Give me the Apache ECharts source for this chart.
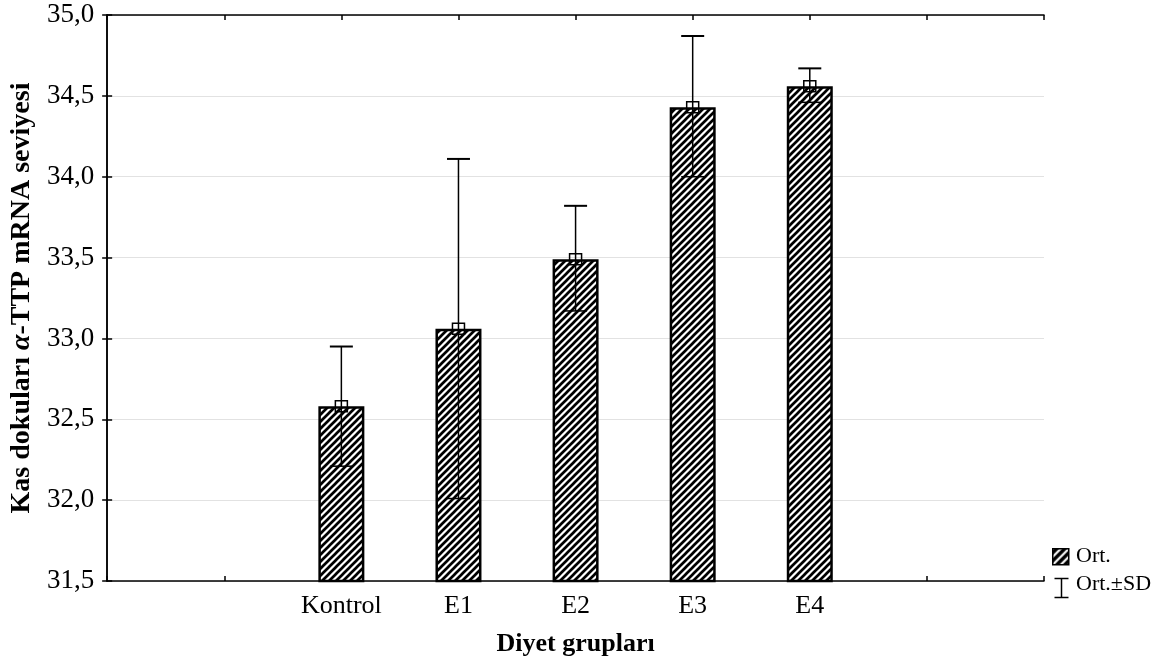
<!DOCTYPE html>
<html>
<head>
<meta charset="utf-8">
<script src="https://cdn.jsdelivr.net/npm/echarts@6/dist/echarts.min.js"></script>
<style>
html,body{margin:0;padding:0;background:#fff;}
#chart{width:1173px;height:669px;}
</style>
</head>
<body>
<div id="chart"></div>
<script>
// ---- data ----
const categories = ['Kontrol', 'E1', 'E2', 'E3', 'E4'];
const means = [32.58, 33.06, 33.49, 34.43, 34.56];
const sdLow = [32.21, 32.01, 33.17, 34.00, 34.46];
const sdHigh = [32.95, 34.11, 33.82, 34.87, 34.67];
const yTicks = ['31,5', '32,0', '32,5', '33,0', '33,5', '34,0', '34,5', '35,0'];

// ---- layout helpers ----
const OFFSET = 2; // empty slots before the first group
const SLOTS = 8;

function hatch(bg, fg, n, w) {
  const c = document.createElement('canvas');
  c.width = n; c.height = n;
  const ctx = c.getContext('2d');
  ctx.fillStyle = bg; ctx.fillRect(0, 0, n, n);
  ctx.strokeStyle = fg; ctx.lineWidth = w;
  ctx.beginPath();
  ctx.moveTo(-1, n + 1); ctx.lineTo(n + 1, -1);
  ctx.moveTo(-2, 2); ctx.lineTo(2, -2);
  ctx.moveTo(n - 2, n + 2); ctx.lineTo(n + 2, n - 2);
  ctx.stroke();
  return c;
}
const pattern = { image: hatch('#ffffff', '#000000', 7, 2.7), repeat: 'repeat' };
const legendPattern = { image: hatch('#000000', '#ffffff', 8, 2.2), repeat: 'repeat' };

const barData = categories.map((c, i) => [i + OFFSET, means[i]]);
const errData = categories.map((c, i) => [i + OFFSET, sdLow[i], sdHigh[i], means[i]]);

const FONT = '"Liberation Serif", "Times New Roman", serif';

const chart = echarts.init(document.getElementById('chart'), null, { renderer: 'canvas' });

const option = {
  backgroundColor: '#ffffff',
  animation: false,
  grid: { left: 103, right: 129, top: 15, bottom: 88, containLabel: false },
  xAxis: [{
    type: 'value', min: 0, max: SLOTS, interval: 1,
    name: 'Diyet grupları', nameLocation: 'middle', nameGap: 50,
    nameTextStyle: { fontFamily: FONT, fontSize: 26, fontWeight: 'bold', color: '#000' },
    axisLine: { show: true, lineStyle: { color: '#000', width: 1.5 } },
    axisTick: { show: true, inside: true, length: 5, lineStyle: { color: '#000', width: 1.5 } },
    axisLabel: {
      fontFamily: FONT, fontSize: 26, color: '#000', margin: 12,
      formatter: v => { const k = Math.round(v) - OFFSET; return (k >= 0 && k < categories.length) ? categories[k] : ''; }
    },
    splitLine: { show: false }
  }, {
    type: 'value', min: 0, max: SLOTS, interval: 1, position: 'top',
    axisLine: { show: true, lineStyle: { color: '#000', width: 1.5 } },
    axisTick: { show: true, inside: true, length: 5, lineStyle: { color: '#000', width: 1.5 } },
    axisLabel: { show: false }, splitLine: { show: false }
  }],
  yAxis: [{
    type: 'value', min: 31.5, max: 35, interval: 0.5,
    name: '{b|Kas dokuları }{i|α}{b|-TTP mRNA seviyesi}',
    nameLocation: 'middle', nameGap: 68, nameRotate: 90,
    nameTextStyle: {
      fontFamily: FONT, fontSize: 28, fontWeight: 'bold', color: '#000',
      rich: {
        b: { fontFamily: FONT, fontSize: 28, fontWeight: 'bold', color: '#000' },
        i: { fontFamily: FONT, fontSize: 28, fontWeight: 'bold', fontStyle: 'italic', color: '#000' }
      }
    },
    axisLine: { show: true, lineStyle: { color: '#000', width: 1.5 } },
    axisTick: { show: true, inside: true, length: 5, lineStyle: { color: '#000', width: 1.5 } },
    axisLabel: {
      fontFamily: FONT, fontSize: 27, color: '#000', margin: 13,
      formatter: v => yTicks[Math.round((v - 31.5) / 0.5)]
    },
    splitLine: { show: true, lineStyle: { color: '#e2e2e2', width: 1.2 } }
  }, {
    type: 'value', min: 31.5, max: 35, interval: 0.5, position: 'right',
    axisLine: { show: true, lineStyle: { color: '#000', width: 1.5 } },
    axisTick: { show: true, inside: true, length: 5, lineStyle: { color: '#000', width: 1.5 } },
    axisLabel: { show: false }, splitLine: { show: false }
  }],
  series: [{
    type: 'bar', name: 'Ort.', xAxisIndex: 0, yAxisIndex: 0,
    data: barData, barWidth: 46,
    itemStyle: { color: pattern, borderColor: '#000', borderWidth: 2.5 },
    z: 2
  }, {
    type: 'custom', name: 'Ort.±SD', xAxisIndex: 0, yAxisIndex: 0,
    data: errData, z: 5,
    renderItem: (params, api) => {
      const x = api.value(0);
      const lo = api.coord([x, api.value(1)]);
      const hi = api.coord([x, api.value(2)]);
      const m = api.coord([x, api.value(3)]);
      const cap = 11.5;
      const st = { stroke: '#000', lineWidth: 1.5, fill: null };
      return {
        type: 'group',
        children: [
          { type: 'line', shape: { x1: hi[0], y1: hi[1], x2: lo[0], y2: lo[1] }, style: st },
          { type: 'line', shape: { x1: hi[0] - cap, y1: hi[1], x2: hi[0] + cap, y2: hi[1] }, style: { stroke: '#000', lineWidth: 2 } },
          { type: 'line', shape: { x1: lo[0] - cap, y1: lo[1], x2: lo[0] + cap, y2: lo[1] }, style: st },
          { type: 'rect', shape: { x: m[0] - 6, y: m[1] - 5.5, width: 12, height: 11 }, style: { stroke: '#000', lineWidth: 1.5, fill: null } }
        ]
      };
    }
  }],
  graphic: [
    { type: 'rect', left: 1052, top: 548, shape: { width: 16, height: 16 }, style: { fill: legendPattern, stroke: '#000', lineWidth: 1.5 } },
    { type: 'text', left: 1076, top: 545, style: { text: 'Ort.', font: '22px ' + FONT, fill: '#000' } },
    { type: 'group', left: 1052, top: 576, children: [
      { type: 'line', shape: { x1: 0, y1: 0, x2: 14, y2: 0 }, style: { stroke: '#000', lineWidth: 1.5 } },
      { type: 'line', shape: { x1: 7, y1: 0, x2: 7, y2: 19 }, style: { stroke: '#000', lineWidth: 1.5 } },
      { type: 'line', shape: { x1: 0, y1: 19, x2: 14, y2: 19 }, style: { stroke: '#000', lineWidth: 1.5 } }
    ] },
    { type: 'text', left: 1076, top: 573, style: { text: 'Ort.±SD', font: '22px ' + FONT, fill: '#000' } }
  ]
};
chart.setOption(option);
</script>
</body>
</html>
